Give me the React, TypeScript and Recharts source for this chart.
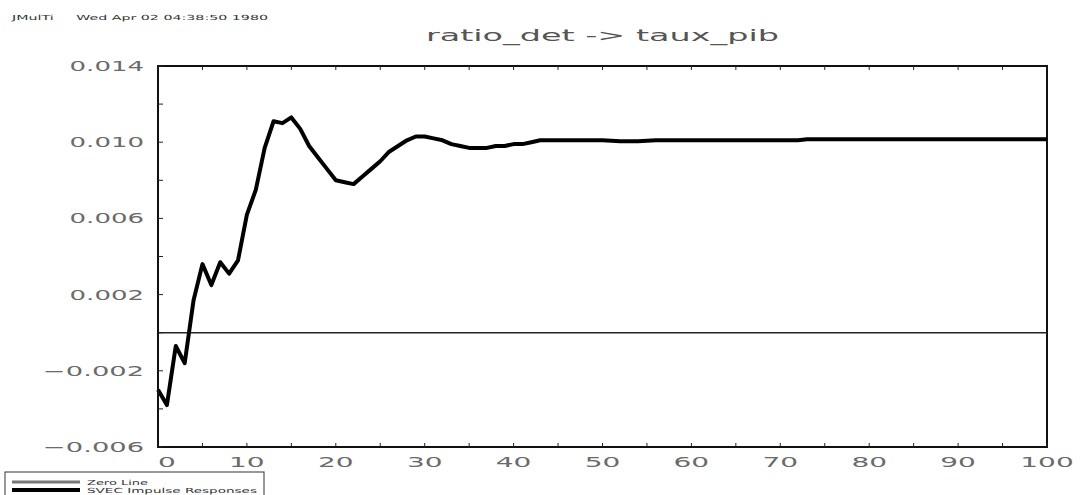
import { LineChart, Line, XAxis, YAxis, ReferenceLine, ReferenceArea } from "recharts";

// impulse response readings (horizon -> response)
const horizons = [
  0, 1, 2, 3, 4, 5, 6, 7, 8, 9, 10, 11, 12, 13, 14, 15, 16, 17, 18, 19, 20,
  21, 22, 23, 24, 25, 26, 27, 28, 29, 30, 31, 32, 33, 34, 35, 36, 37, 38, 39,
  40, 41, 42, 43, 44, 50, 52, 54, 56, 60, 72, 73, 80, 90, 100,
];
const responses = [
  -0.003, -0.0038, -0.0007, -0.0016, 0.0017, 0.0036, 0.0025, 0.0037, 0.0031,
  0.0038, 0.0062, 0.0075, 0.0097, 0.0111, 0.011, 0.0113, 0.0107, 0.0098,
  0.0092, 0.0086, 0.008, 0.0079, 0.0078, 0.0082, 0.0086, 0.009, 0.0095,
  0.0098, 0.0101, 0.0103, 0.0103, 0.0102, 0.0101, 0.0099, 0.0098, 0.0097,
  0.0097, 0.0097, 0.0098, 0.0098, 0.0099, 0.0099, 0.01, 0.0101, 0.0101,
  0.0101, 0.01005, 0.01005, 0.0101, 0.0101, 0.0101, 0.01015, 0.01015,
  0.01015, 0.01015,
];
const xTicks = [
  0, 5, 10, 15, 20, 25, 30, 35, 40, 45, 50, 55, 60, 65, 70, 75, 80, 85, 90,
  95, 100,
];
const yTicks = [
  -0.006, -0.004, -0.002, 0, 0.002, 0.004, 0.006, 0.008, 0.01, 0.012, 0.014,
];
const legendItems = [
  { label: "Zero Line", color: "#777", width: 3 },
  { label: "SVEC Impulse Responses", color: "#000", width: 4 },
];
const title = "ratio_det -> taux_pib";
const header = "JMulTi     Wed Apr 02 04:38:50 1980";

const data = horizons.map((h, i) => ({ h, irf: responses[i] }));

const W = 1080;
const H = 495;
const PLOT_LEFT = 158;
const PLOT_RIGHT = 1047;
const PLOT_TOP = 66;
const PLOT_BOTTOM = 447;
const FONT = "DejaVu Sans";
const LABEL = "#6a6a6a";

const fmtY = (v: number) => {
  const s = Math.abs(v).toFixed(3);
  return v < 0 ? "\u2212" + s : s;
};

function LeftTick(props: any) {
  const { x, y, index, payload } = props;
  const label = fmtY(payload.value);
  const showLabel = index % 2 === 0;
  const len = label.length * 18.6 + (payload.value < 0 ? 8 : 0) - 18.6;
  return (
    <g>
      <line x1={PLOT_LEFT} x2={PLOT_LEFT + 5} y1={y} y2={y} stroke="#222" strokeWidth={1} />
      {showLabel && (
        <text
          x={x}
          y={y}
          dy={5}
          textAnchor="end"
          fontFamily={FONT}
          fontSize={14}
          fill={LABEL}
          textLength={len}
          lengthAdjust="spacingAndGlyphs"
        >
          {label}
        </text>
      )}
    </g>
  );
}

function RightTick(props: any) {
  const { y } = props;
  return <line x1={PLOT_RIGHT - 5} x2={PLOT_RIGHT} y1={y} y2={y} stroke="#222" strokeWidth={1} />;
}

function BottomTick(props: any) {
  const { x, payload } = props;
  const v = payload.value as number;
  const tickLine = (
    <line x1={x} x2={x} y1={PLOT_BOTTOM - 4} y2={PLOT_BOTTOM} stroke="#222" strokeWidth={1} />
  );
  if (v % 10 !== 0) return <g>{tickLine}</g>;
  const label = String(v);
  return (
    <g>
      {tickLine}
      <text
        x={x}
        y={PLOT_BOTTOM + 20}
        textAnchor={v === 0 ? "start" : "middle"}
        fontFamily={FONT}
        fontSize={14}
        fill={LABEL}
        textLength={label.length * 17.8}
        lengthAdjust="spacingAndGlyphs"
      >
        {label}
      </text>
    </g>
  );
}

function TopTick(props: any) {
  const { x } = props;
  return <line x1={x} x2={x} y1={PLOT_TOP} y2={PLOT_TOP + 4} stroke="#222" strokeWidth={1} />;
}

function Overlay() {
  return (
    <svg
      width={W}
      height={H}
      style={{ position: "absolute", left: 0, top: 0, pointerEvents: "none" }}
    >
      <text
        x={12}
        y={20}
        fontFamily={FONT}
        fontSize={7}
        fill="#333"
        textLength={256}
        lengthAdjust="spacingAndGlyphs"
        style={{ whiteSpace: "pre" }}
      >
        {header}
      </text>
      <text
        x={(PLOT_LEFT + PLOT_RIGHT) / 2}
        y={41}
        textAnchor="middle"
        fontFamily={FONT}
        fontSize={15}
        fill="#555"
        textLength={353}
        lengthAdjust="spacingAndGlyphs"
      >
        {title}
      </text>
      <rect x={5} y={472} width={259} height={30} fill="#fff" stroke="#333" strokeWidth={1} />
      {legendItems.map((it, i) => (
        <g key={it.label}>
          <line x1={12} x2={80} y1={482 + i * 8} y2={482 + i * 8} stroke={it.color} strokeWidth={it.width} />
          <text
            x={87}
            y={485 + i * 8}
            fontFamily={FONT}
            fontSize={7}
            fill="#333"
            textLength={i === 0 ? 61 : 170}
            lengthAdjust="spacingAndGlyphs"
          >
            {it.label}
          </text>
        </g>
      ))}
    </svg>
  );
}

export default function App() {
  return (
    <div style={{ position: "absolute", left: 0, top: 0, width: W, height: H, background: "#fff" }}>
      <LineChart
        width={W}
        height={H}
        data={data}
        margin={{ top: PLOT_TOP - 1, right: W - PLOT_RIGHT - 1, bottom: 0, left: 0 }}
      >
        <XAxis
          xAxisId="bottom"
          dataKey="h"
          type="number"
          domain={[0, 100]}
          ticks={xTicks}
          interval={0}
          height={H - PLOT_BOTTOM}
          axisLine={{ stroke: "#111", strokeWidth: 2 }}
          tickLine={false}
          tick={<BottomTick />}
        />
        <XAxis
          xAxisId="top"
          orientation="top"
          dataKey="h"
          type="number"
          domain={[0, 100]}
          ticks={xTicks}
          interval={0}
          height={1}
          axisLine={false}
          tickLine={false}
          tick={<TopTick />}
        />
        <YAxis
          yAxisId="left"
          type="number"
          domain={[-0.006, 0.014]}
          ticks={yTicks}
          interval={0}
          width={PLOT_LEFT}
          tickSize={0}
          tickMargin={14}
          axisLine={{ stroke: "#111", strokeWidth: 2 }}
          tickLine={false}
          tick={<LeftTick />}
        />
        <YAxis
          yAxisId="right"
          orientation="right"
          type="number"
          domain={[-0.006, 0.014]}
          ticks={yTicks}
          interval={0}
          width={1}
          axisLine={false}
          tickLine={false}
          tick={<RightTick />}
        />
        <ReferenceArea
          xAxisId="bottom"
          yAxisId="left"
          x1={0}
          x2={100}
          y1={-0.006}
          y2={0.014}
          fill="none"
          stroke="#111"
          strokeWidth={2}
        />
        <ReferenceLine xAxisId="bottom" yAxisId="left" y={0} stroke="#222" strokeWidth={1.5} />
        <Line
          xAxisId="bottom"
          yAxisId="left"
          type="linear"
          dataKey="irf"
          stroke="#000"
          strokeWidth={4}
          strokeLinejoin="round"
          dot={false}
          isAnimationActive={false}
        />
      </LineChart>
      <Overlay />
    </div>
  );
}
